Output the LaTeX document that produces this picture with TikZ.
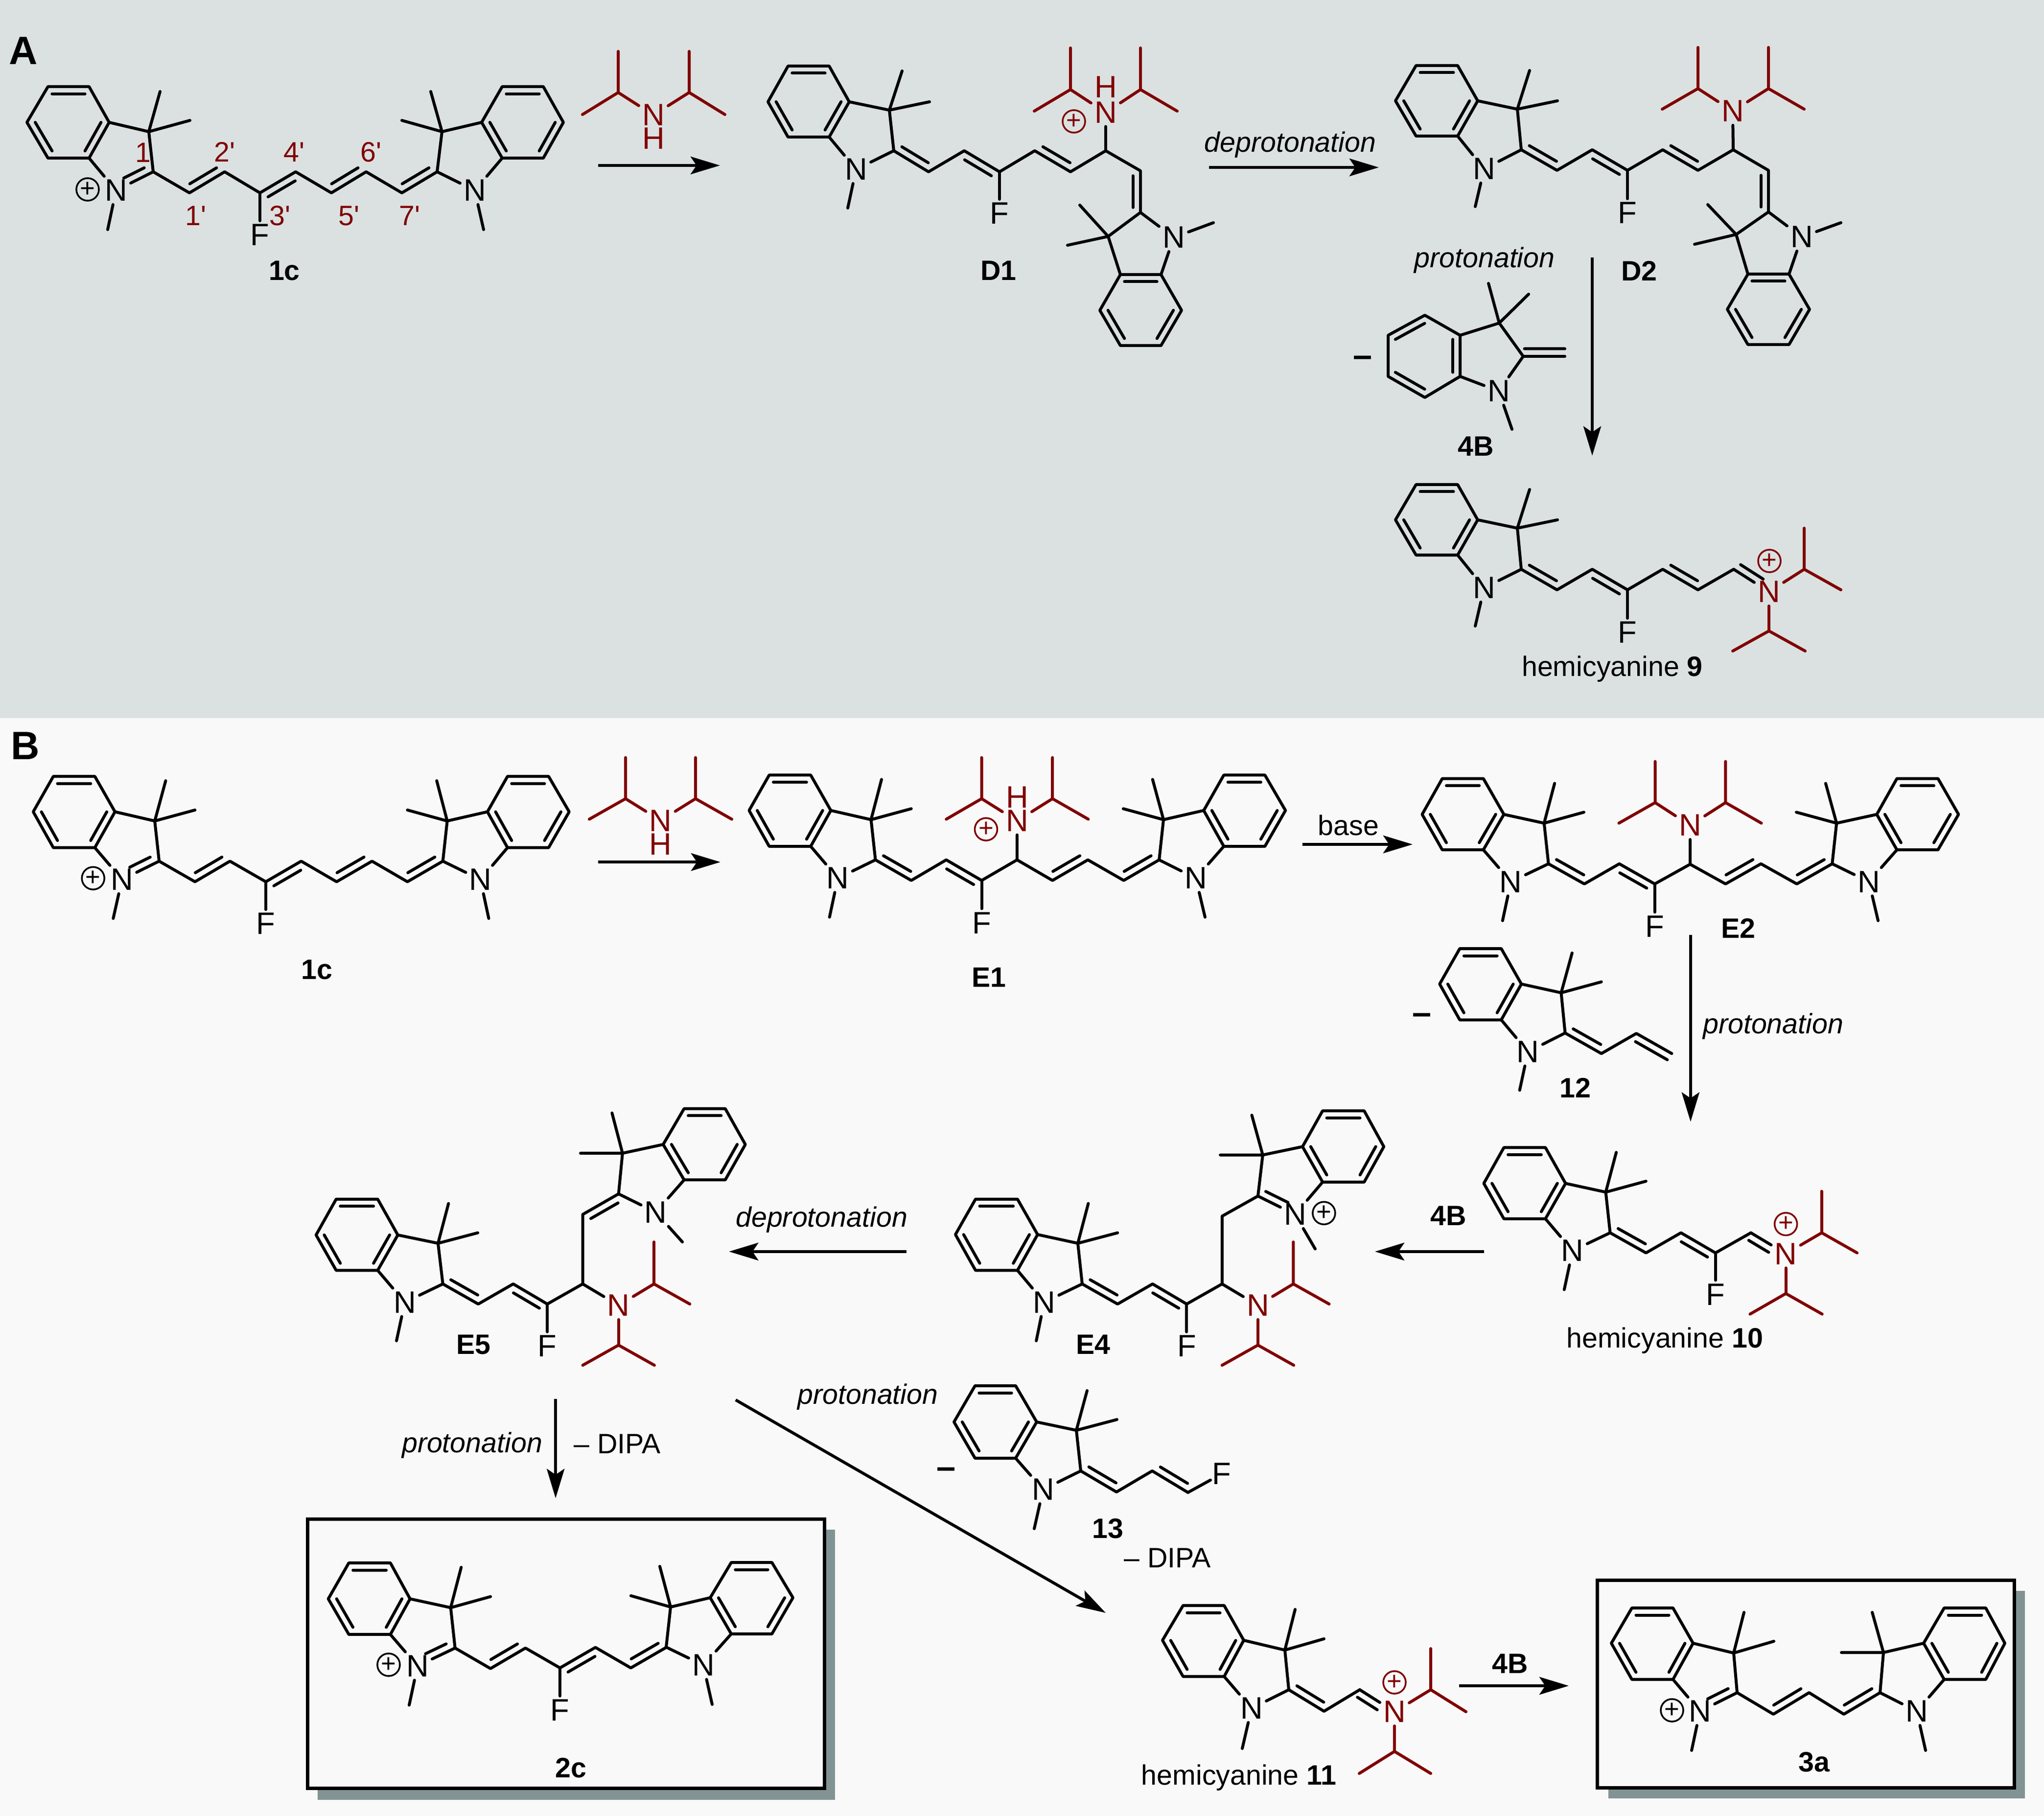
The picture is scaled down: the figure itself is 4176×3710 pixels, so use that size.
\documentclass[tikz,border=0pt]{standalone}
\usepackage{fontspec}
\defaultfontfeatures[\rmfamily]{}
\setmainfont{Liberation Sans}
\usetikzlibrary{calc,arrows.meta}
\definecolor{bandA}{RGB}{219,225,225}
\definecolor{bandB}{RGB}{249,249,249}
\definecolor{dred}{RGB}{128,0,0}
\definecolor{shadowgrey}{RGB}{130,147,147}
\tikzset{
 bond/.style={line width=0.06cm,line cap=round,line join=round,black},
 rbond/.style={line width=0.06cm,line cap=round,line join=round,dred},
 atom/.style={inner sep=0.065cm,font=\fontsize{18}{18}\selectfont,black},
 ratom/.style={atom,dred},
 hatom/.style={ratom,inner xsep=0.065cm,inner ysep=0.01cm},
 hlabel/.style={ratom,inner sep=0pt},
 lab/.style={inner sep=0pt,font=\fontsize{16.3}{18}\selectfont\bfseries,black},
 dashlab/.style={inner sep=0pt,font=\fontsize{20}{20}\selectfont\bfseries,black},
 txt/.style={inner sep=0pt,font=\fontsize{16.3}{18}\selectfont,black},
 itxt/.style={inner sep=0pt,font=\fontsize{16.3}{18}\selectfont\itshape,black},
 rtxt/.style={inner sep=0pt,font=\fontsize{16.3}{18}\selectfont,dred},
 panel/.style={inner sep=0pt,font=\fontsize{23}{23}\selectfont\bfseries,black},
 chg/.style={circle,draw,inner sep=0pt,minimum size=0.46cm,line width=0.035cm,font=\fontsize{15}{15}\selectfont},
 rxn/.style={line width=0.06cm,black,-{Stealth[length=0.6cm,width=0.36cm,inset=0.12cm]}},
 frame/.style={line width=0.07cm,black,fill=bandB},
 zA/.style={shift={(0,1470)},x=0.00893cm,y=-0.00893cm},
 zB/.style={shift={(1400,1470)},x=0.00893cm,y=-0.00893cm},
 zC/.style={shift={(2776,1470)},x=0.00893cm,y=-0.00893cm},
 zD/.style={shift={(0,2700)},x=0.00893cm,y=-0.00644cm},
}
% inner line of a double bond: from fraction #3 to #4 of A-B, offset #5 (positive = left of A->B)
\newcommand\inn[5]{\draw[bond] ($(#1)!#3!(#2)!#5!90:(#2)$) -- ($(#1)!#4!(#2)!#5!90:(#2)$);}
\newcommand\dL[2]{\inn{#1}{#2}{.12}{.88}{.155cm}}
\newcommand\dR[2]{\inn{#1}{#2}{.12}{.88}{-.155cm}}
\def\indole#1;#2;#3;#4;#5;#6;#7;#8;#9;{%
 \coordinate (p1) at (#1);\coordinate (p2) at (#2);\coordinate (p3) at (#3);
 \coordinate (p4) at (#4);\coordinate (p5) at (#5);\coordinate (p6) at (#6);
 \coordinate (c3) at (#7);\coordinate (m1) at (#8);\coordinate (m2) at (#9);
 \coordinate (cen) at ($(p1)!.5!(p4)$);
 \indoleB}
\def\indoleB#1;#2;#3;{%
 \coordinate (c2) at (#1);\coordinate (me) at (#3);
 \node[atom] (n) at (#2) {N};
 \draw[bond] (p1)--(p2)--(p3)--(p4)--(p5)--(p6)--cycle;
 \draw[bond] ($(p1)!.2!(cen)$)--($(p2)!.2!(cen)$);
 \draw[bond] ($(p3)!.2!(cen)$)--($(p4)!.2!(cen)$);
 \draw[bond] ($(p5)!.2!(cen)$)--($(p6)!.2!(cen)$);
 \draw[bond] (p3)--(c3)--(c2);
 \draw[bond] (m1)--(c3)--(m2);
 \draw[bond] (p4)--(n);\draw[bond] (c2)--(n);\draw[bond] (n)--(me);}
% isopropyl: from node #1 to CH #2, with arms #3 #4
\newcommand\iPr[4]{\draw[rbond] (#1)--(#2);\draw[rbond] (#3)--(#2)--(#4);}
\newcommand\arr[3]{\coordinate (#1s) at (#2);\coordinate (#1e) at (#3);\draw[rxn] (#1s)--(#1e);}
\begin{document}
\begin{tikzpicture}[x=0.01cm,y=-0.01cm]
\useasboundingbox (0,0) rectangle (4176,3710);
\fill[bandB] (0,0) rectangle (4176,3710);
\fill[bandA] (0,0) rectangle (4176,1467);
\node[panel] (pA) at (48,104) {A};
% ---------- 1c (A)
\indole 98,177;182,177;223,250;182,323;98,323;55,250;304,269;327,187;388,246;313,351;237,389;220,469;
\draw[bond] (313,351)--(387,394)--(459,351)--(531,394)--(604,351)--(677,394)--(748,351)--(821,394)--(893,351);
\inn{313,351}{237,389}{.15}{.7}{-.155cm}
\dL{387,394}{459,351}\dR{531,394}{604,351}\dL{677,394}{748,351}\dL{821,394}{893,351}
\node[chg] (pl1) at (179,387) {+};
\node[atom] (f1) at (531,480) {F};\draw[bond] (531,394)--(f1);
\indole 1110,177;1026,177;984,250;1026,323;1110,323;1151,250;903,269;880,187;821,246;893,351;970,389;988,469;
\node[rtxt] (r1) at (292,312) {1};
\node[rtxt] (r2) at (459,311) {2'};
\node[rtxt] (r4) at (601,311) {4'};
\node[rtxt] (r6) at (758,311) {6'};
\node[rtxt] (r1p) at (400,441) {1'};
\node[rtxt] (r3) at (572,441) {3'};
\node[rtxt] (r5) at (713,441) {5'};
\node[rtxt] (r7) at (837,441) {7'};
\node[lab] (l1c) at (581,553) {1c};
% DIPA (A)
\node[hatom] (na) at (1335,235) {N};
\node[hlabel] (ha) at (1335,283) {H};
\iPr{na}{1263,189}{1263,105}{1190,234}
\iPr{na}{1408,189}{1408,105}{1481,234}
\arr{a1}{1222,338}{1471,338}
% ---------- D1
\indole 1610,135;1694,135;1735,208;1694,280;1610,280;1569,208;1817,225;1843,145;1899,208;1826,308;1749,346;1732,425;
\draw[bond] (1826,308)--(1897,351)--(1970,308)--(2042,351)--(2114,308)--(2187,351)--(2259,308)--(2330,349)--(2330,434);
\dL{1826,308}{1897,351}\dR{1970,308}{2042,351}\dL{2114,308}{2187,351}\dR{2330,349}{2330,434}
\node[atom] (f2) at (2042,436) {F};\draw[bond] (2042,351)--(f2);
\node[hatom] (nb) at (2259,230) {N};
\node[hlabel] (hb) at (2259,178) {H};
\draw[bond] (2259,308)--([yshift=-0.05cm]nb.south);
\node[chg,dred] (pl2) at (2194,248) {+};
\iPr{nb}{2187,183}{2187,98}{2113,227}
\iPr{nb}{2330,183}{2330,98}{2405,227}
\indole 2289,706;2247,634;2289,561;2372,561;2414,634;2372,706;2264,483;2206,419;2181,501;2330,434;2398,485;2479,455;
\node[lab] (lD1) at (2040,553) {D1};
\arr{a2}{2470,342}{2817,342}
\node[itxt] (t1) at (2636,296) {deprotonation};
% ---------- D2
\indole 2893,134;2978,134;3019,206;2978,278;2893,278;2851,206;3100,223;3125,144;3182,206;3108,306;3032,345;3014,422;
\draw[bond] (3108,306)--(3181,348)--(3253,306)--(3325,348)--(3397,306)--(3469,348)--(3541,306)--(3613,348)--(3613,433);
\dL{3108,306}{3181,348}\dR{3253,306}{3325,348}\dL{3397,306}{3469,348}\dR{3613,348}{3613,433}
\node[atom] (f3) at (3325,435) {F};\draw[bond] (3325,348)--(f3);
\node[ratom] (nc) at (3540,227) {N};
\draw[bond] (3541,306)--(nc);
\iPr{nc}{3469,181}{3469,97}{3396,223}
\iPr{nc}{3613,181}{3613,97}{3686,223}
\indole 3571,704;3529,632;3571,560;3655,560;3697,632;3655,704;3547,479;3489,418;3462,499;3613,433;3681,484;3761,455;
\node[lab] (lD2) at (3349,553) {D2};
\node[itxt] (t2) at (3033,532) {protonation};
\arr{a3}{3253,526}{3253,931}
% ---------- 4B
\node[dashlab] (m4) at (2784,738) {–};
\indole 2836,685;2911,644;2983,685;2983,769;2911,812;2836,769;3063,660;3041,579;3123,601;3112,728;3062,799;3089,877;
\draw[bond] (3112,728)--(3197,728);
\inn{3112,728}{3197,728}{.03}{1}{.155cm}
\node[lab] (l4B) at (3015,912) {4B};
% ---------- 9
\indole 2893,990;2978,990;3019,1062;2978,1134;2893,1134;2851,1062;3100,1079;3125,1000;3182,1062;3108,1163;3032,1201;3014,1279;
\draw[bond] (3108,1163)--(3181,1205)--(3253,1163)--(3325,1205)--(3397,1163)--(3469,1205)--(3542,1163);
\dL{3108,1163}{3181,1205}\dR{3253,1163}{3325,1205}\dL{3397,1163}{3469,1205}
\node[ratom] (nd) at (3614,1209) {N};
\draw[bond] (3542,1163)--(nd);
\inn{3542,1163}{3614,1209}{.08}{.72}{.155cm}
\node[chg,dred] (pl3) at (3615,1146) {+};
\node[atom] (f4) at (3325,1292) {F};\draw[bond] (3325,1205)--(f4);
\iPr{nd}{3686,1163}{3686,1079}{3761,1205}
\iPr{nd}{3614,1289}{3540,1330}{3688,1330}
\node[txt] (l9) at (3294,1367) {hemicyanine \textbf{9}};
% ================ B
\node[panel] (pB) at (52,1524) {B};
\begin{scope}[zA]
 \indole 122,130;217,130;263,211;217,293;122,293;76,211;354,232;379,140;446,207;364,324;279,366;259,455;
 \draw[bond] (364,324)--(446,371)--(526,324)--(608,371)--(689,324)--(770,371)--(851,324)--(932,371)--(1013,324);
 \inn{364,324}{279,366}{.15}{.7}{-.155cm}
 \dL{446,371}{526,324}\dR{608,371}{689,324}\dL{770,371}{851,324}\dL{932,371}{1013,324}
 \node[chg] (pl4) at (213,363) {+};
 \node[atom] (f5) at (608,467) {F};\draw[bond] (608,371)--(f5);
 \indole 1255,130;1161,130;1115,211;1161,293;1255,293;1302,211;1023,232;999,140;932,207;1013,324;1099,366;1118,455;
 \node[lab] (l1c2) at (725,572) {1c};
 % DIPA (B)
 \node[hatom] (ne) at (1511,231) {N};
 \node[hlabel] (he) at (1511,285) {H};
 \iPr{ne}{1431,181}{1431,87}{1348,228}
 \iPr{ne}{1591,181}{1591,87}{1674,228}
 \arr{a4}{1368,326}{1648,326}
 % E5
 \indole 769,1097;864,1097;910,1179;864,1260;769,1260;723,1179;1002,1198;1026,1107;1093,1174;1013,1291;926,1333;907,1421;
 \draw[bond] (1013,1291)--(1094,1337)--(1174,1291)--(1252,1337)--(1333,1291)--(1333,1132)--(1415,1085);
 \dL{1013,1291}{1094,1337}\dR{1174,1291}{1252,1337}\dR{1333,1132}{1415,1085}
 \node[ratom] (nf) at (1415,1340) {N};
 \draw[bond] (1333,1291)--(nf);
 \node[atom] (f6) at (1252,1433) {F};\draw[bond] (1252,1337)--(f6);
 \node[lab] (lE5) at (1083,1430) {E5};
 \iPr{nf}{1496,1291}{1496,1195}{1578,1337}
 \iPr{nf}{1415,1431}{1333,1477}{1497,1477}
 \indole 1659,890;1565,890;1517,972;1565,1053;1659,1053;1705,972;1424,992;1400,900;1328,992;1415,1085;1500,1127;1561,1195;
\end{scope}
\begin{scope}[zB]
 % E1
 \indole 192,127;287,127;333,208;287,290;192,290;146,208;425,229;449,137;517,204;435,321;349,363;330,452;
 \draw[bond] (435,321)--(517,368)--(597,321)--(678,368)--(759,321)--(840,368)--(921,321)--(1003,368)--(1084,321);
 \dL{435,321}{517,368}\dR{597,321}{678,368}\dL{840,368}{921,321}\dL{1003,368}{1084,321}
 \node[atom] (f7) at (678,465) {F};\draw[bond] (678,368)--(f7);
 \node[hatom] (ng) at (759,232) {N};
 \node[hlabel] (hg) at (759,178) {H};
 \draw[bond] (759,321)--([yshift=-0.05cm]ng.south);
 \node[chg,dred] (pl5) at (688,251) {+};
 \iPr{ng}{678,181}{678,87}{597,228}
 \iPr{ng}{840,181}{840,87}{922,228}
 \indole 1326,127;1232,127;1186,208;1232,290;1326,290;1373,208;1094,229;1069,137;1002,204;1084,321;1168,363;1189,452;
 \node[lab] (lE1) at (695,590) {E1};
 % E4
 \indole 664,1097;760,1097;806,1178;760,1260;664,1260;618,1178;898,1198;922,1107;989,1174;908,1291;821,1333;803,1421;
 \draw[bond] (908,1291)--(989,1337)--(1069,1291)--(1147,1337)--(1228,1291)--(1228,1136)--(1310,1090);
 \dL{908,1291}{989,1337}\dR{1069,1291}{1147,1337}
 \node[ratom] (nh) at (1310,1340) {N};
 \draw[bond] (1228,1291)--(nh);
 \node[atom] (f8) at (1147,1433) {F};\draw[bond] (1147,1337)--(f8);
 \node[lab] (lE4) at (933,1430) {E4};
 \iPr{nh}{1391,1291}{1391,1195}{1473,1337}
 \iPr{nh}{1310,1431}{1228,1477}{1392,1477}
 \indole 1553,895;1458,895;1412,977;1458,1058;1553,1058;1598,977;1321,996;1296,905;1224,996;1310,1090;1395,1132;1441,1211;
 \inn{1310,1090}{1395,1132}{.12}{.72}{.155cm}
 \node[chg] (pl6) at (1461,1129) {+};
 \arr{a5}{506,1217}{100,1217}
 \node[itxt] (t3) at (312,1144) {deprotonation};
\end{scope}
\arr{a6}{2661,1725}{2886,1725}
\node[txt] (t4) at (2755,1686) {base};
\begin{scope}[zC]
 % E2
 \indole 191,135;285,135;332,217;285,298;191,298;145,217;424,237;448,146;515,212;434,330;348,371;329,460;
 \draw[bond] (434,330)--(516,376)--(596,330)--(677,376)--(758,331)--(839,376)--(920,330)--(1002,376)--(1083,330);
 \dL{434,330}{516,376}\dR{596,330}{677,376}\dL{839,376}{920,330}\dL{1002,376}{1083,330}
 \node[atom] (f9) at (677,473) {F};\draw[bond] (677,376)--(f9);
 \node[ratom] (ni) at (758,242) {N};
 \draw[bond] (758,331)--(ni);
 \iPr{ni}{678,190}{678,96}{595,237}
 \iPr{ni}{839,190}{839,96}{921,237}
 \indole 1325,135;1231,135;1185,217;1231,298;1325,298;1372,217;1093,237;1068,146;1001,212;1083,330;1167,371;1188,460;
 \node[lab] (lE2) at (868,478) {E2};
 \arr{a7}{759,493}{759,920}
 \node[itxt] (t5) at (948,702) {protonation};
 % 12
 \node[dashlab] (m12) at (145,685) {–};
 \indole 231,524;326,524;372,605;326,687;231,687;185,605;463,625;488,534;555,600;472,717;387,760;368,848;
 \draw[bond] (472,717)--(555,764)--(635,718)--(716,764);
 \dL{472,717}{555,764}
 \inn{635,718}{716,764}{.08}{.98}{-.155cm}
 \node[lab] (l12) at (495,843) {12};
 % 10
 \indole 332,979;427,979;473,1061;427,1142;332,1142;286,1061;565,1081;589,990;657,1056;575,1174;489,1215;470,1304;
 \draw[bond] (575,1174)--(657,1220)--(737,1174)--(816,1220)--(897,1174);
 \dL{575,1174}{657,1220}\dR{737,1174}{816,1220}
 \node[ratom] (nj) at (977,1222) {N};
 \draw[bond] (897,1174)--(nj);
 \inn{897,1174}{977,1222}{.05}{.62}{-.155cm}
 \node[atom] (f10) at (816,1315) {F};\draw[bond] (816,1220)--(f10);
 \node[chg,dred] (pl7) at (977,1154) {+};
 \iPr{nj}{1059,1174}{1059,1079}{1140,1220}
 \iPr{nj}{977,1313}{895,1360}{1060,1360}
 \node[txt] (l10) at (700,1420) {hemicyanine \textbf{10}};
 \node[lab] (l4B2) at (205,1135) {4B};
 \arr{a8}{287,1217}{37,1217}
\end{scope}
% ---------- boxes
\fill[shadowgrey] (649,3125) rectangle (1706,3677);
\draw[frame] (628,3103) rectangle (1684,3653);
\fill[shadowgrey] (3286,3250) rectangle (4137,3674);
\draw[frame] (3263,3228) rectangle (4115,3652);
% 2c
\begin{scope}[zD]
 \indole 798,765;893,765;938,879;893,992;798,992;751,879;1031,907;1055,779;1122,872;1041,1035;955,1092;936,1216;
 \draw[bond] (1041,1035)--(1122,1100)--(1202,1035)--(1281,1098)--(1362,1033)--(1443,1098)--(1524,1033);
 \inn{1041,1035}{955,1092}{.15}{.7}{-.155cm}
 \dL{1122,1100}{1202,1035}\dR{1281,1098}{1362,1033}\dL{1443,1098}{1524,1033}
 \node[chg] (pl8) at (889,1088) {+};
 \node[atom] (f11) at (1281,1232) {F};\draw[bond] (1281,1098)--(f11);
 \node[lab] (l2c) at (1306,1415) {2c};
 \arr{a9}{1271,245}{1271,560}
 \node[itxt] (t6) at (1080,392) {protonation};
 \node[txt] (t7) at (1412,388) {– DIPA};
\end{scope}
\indole 1577,3192;1494,3192;1451,3264;1494,3338;1577,3338;1620,3264;1370,3283;1348,3200;1289,3260;1361,3365;1437,3402;1455,3482;
% diagonal
\arr{a10}{1503,2860}{2259,3295}
\node[itxt] (t8) at (1773,2854) {protonation};
% 13
\node[dashlab] (m13) at (1933,3009) {–};
\indole 1992,2831;2075,2831;2118,2905;2075,2979;1992,2979;1949,2905;2199,2922;2221,2841;2282,2900;2208,3005;2131,3043;2113,3123;
\draw[bond] (2208,3005)--(2281,3048)--(2354,3005)--(2427,3049);
\dL{2208,3005}{2281,3048}\dL{2354,3005}{2427,3049}
\node[atom,inner sep=0.03cm] (f12) at (2496,3011) {F};\draw[bond] (2427,3049)--(f12);
\node[lab] (l13) at (2263,3123) {13};
\node[txt] (t9) at (2385,3183) {– DIPA};
% 11
\indole 2417,3280;2501,3280;2541,3351;2501,3425;2417,3425;2375,3351;2625,3371;2646,3288;2705,3348;2633,3452;2557,3490;2538,3572;
\draw[bond] (2633,3452)--(2705,3496)--(2778,3452);
\dL{2633,3452}{2705,3496}
\node[ratom] (nk) at (2849,3497) {N};
\draw[bond] (2778,3452)--(nk);
\inn{2778,3452}{2849,3497}{.05}{.62}{-.155cm}
\node[chg,dred] (pl9) at (2849,3437) {+};
\iPr{nk}{2923,3452}{2923,3368}{2995,3497}
\iPr{nk}{2849,3578}{2777,3623}{2923,3623}
\node[txt] (l11) at (2531,3632) {hemicyanine \textbf{11}};
\arr{a11}{2981,3444}{3205,3444}
\node[lab] (l4B3) at (3085,3399) {4B};
% 3a
\indole 3334,3285;3418,3285;3459,3357;3418,3431;3334,3431;3292,3357;3542,3377;3563,3294;3624,3353;3549,3458;3473,3496;3456,3576;
\draw[bond] (3549,3458)--(3623,3502)--(3696,3458)--(3767,3502)--(3841,3458);
\inn{3549,3458}{3473,3496}{.15}{.7}{-.155cm}
\dL{3623,3502}{3696,3458}\dL{3767,3502}{3841,3458}
\node[chg] (pl10) at (3416,3494) {+};
\indole 4057,3285;3972,3285;3930,3357;3972,3431;4057,3431;4096,3357;3848,3376;3825,3294;3762,3376;3841,3458;3916,3496;3934,3576;
\node[lab] (l3a) at (3706,3600) {3a};
\end{tikzpicture}
\end{document}
